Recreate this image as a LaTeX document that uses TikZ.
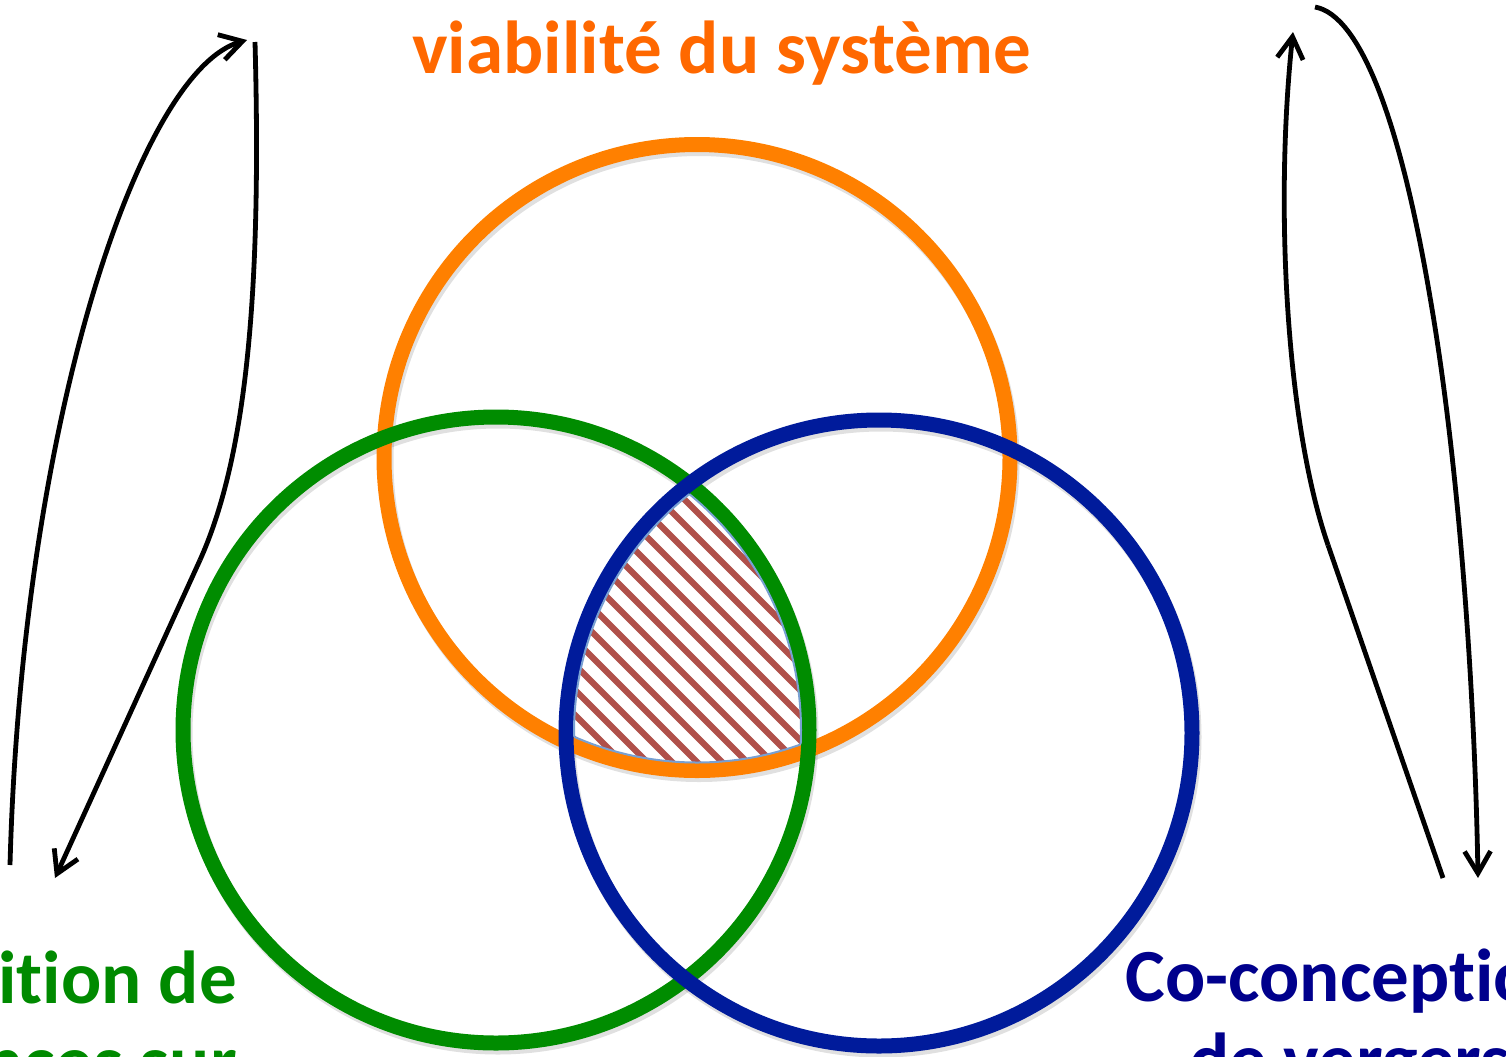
\documentclass[tikz,border=0pt]{standalone}
\usepackage{fontspec}
\setmainfont{Carlito}[Ligatures={NoCommon,NoRare}]
\usetikzlibrary{arrows.meta}
\definecolor{ringorange}{RGB}{255,128,0}
\definecolor{ringgreen}{RGB}{0,140,0}
\definecolor{ringblue}{RGB}{0,27,155}
\definecolor{txtorange}{RGB}{255,104,0}
\definecolor{txtgreen}{RGB}{0,138,0}
\definecolor{txtblue}{RGB}{0,0,140}
\definecolor{hatchred}{RGB}{176,80,74}
\definecolor{hatchedge}{RGB}{120,160,210}
\tikzset{
  ring/.style={line width=7.5pt},
  ringshadow/.style={line width=7.5pt, draw=black, opacity=0.12},
  loop/.style={line width=2.4pt, -{Straight Barb[length=11pt,width=13pt,line width=2.4pt]}},
  plainloop/.style={line width=2.4pt},
  label/.style={font=\bfseries\fontsize{37.5pt}{42pt}\selectfont, inner sep=0pt},
  titlelabel/.style={font=\bfseries\fontsize{37.5pt}{40pt}\selectfont, inner sep=0pt, text=txtorange},
  stripe/.style={line width=3.1pt, draw=hatchred},
  hatchborder/.style={line width=1pt, draw=hatchedge}
}
\begin{document}
\begin{tikzpicture}[x=0.5pt,y=-0.5pt]
\useasboundingbox (0,0) rectangle (1506,1056);
% centres
\coordinate (co) at (697,457.5);
\coordinate (cg) at (496,730);
\coordinate (cb) at (879,733);
% shadows
\draw[ringshadow] ([shift={(2,4)}]co) circle[radius=313];
\draw[ringshadow] ([shift={(2,4)}]cg) circle[radius=313];
\draw[ringshadow] ([shift={(2,4)}]cb) circle[radius=313];
% rings
\draw[ring, draw=ringorange] (co) circle[radius=313];
\draw[ring, draw=ringgreen] (cg) circle[radius=313];
\draw[ring, draw=ringblue] (cb) circle[radius=313];
% hatched common part
\begin{scope}
  \clip (co) circle[radius=305];
  \clip (cg) circle[radius=305];
  \clip (cb) circle[radius=305];
  \fill[white] (500,450) rectangle (900,800);
  \foreach \d in {-425,-400,...,425}
    \draw[stripe] (690+\d-300,630-300) -- (690+\d+300,630+300);
\end{scope}
\begin{scope}
  \clip (cg) circle[radius=305];
  \clip (cb) circle[radius=305];
  \draw[hatchborder] (co) circle[radius=305];
\end{scope}
\begin{scope}
  \clip (co) circle[radius=305];
  \clip (cb) circle[radius=305];
  \draw[hatchborder] (cg) circle[radius=305];
\end{scope}
\begin{scope}
  \clip (co) circle[radius=305];
  \clip (cg) circle[radius=305];
  \draw[hatchborder] (cb) circle[radius=305];
\end{scope}
% texts
\node[titlelabel, anchor=base] (title) at (721.5,73) {viabilité du système};
\node[label, text=txtgreen, anchor=base east] (g1) at (237,1003) {Acquisition de};
\node[label, text=txtgreen, anchor=base east] (g2) at ([shift={(0,84)}]g1.base east) {connaissances sur};
\node[label, text=txtblue, anchor=base west] (b1) at (1125,1001) {Co-conception};
\node[label, text=txtblue, anchor=base] (b2) at ([shift={(0,84)}]b1.base) {de vergers};
% loop arrows, left
\coordinate (la0) at (10,865);
\coordinate (la1) at (247,40);
\coordinate (lb0) at (255,42);
\coordinate (lbm) at (200,560);
\coordinate (lb1) at (55,878);
\draw[loop] (la0) .. controls (22,420) and (140,70) .. (la1);
\draw[plainloop] (lb0) .. controls (262,300) and (245,460) .. (lbm);
\draw[loop] (lbm) -- (lb1);
% loop arrows, right
\coordinate (rc0) at (1443,878);
\coordinate (rcm) at (1328,545);
\coordinate (rc1) at (1293,32);
\coordinate (rd0) at (1315,7);
\coordinate (rdm) at (1430,297);
\coordinate (rd1) at (1478,878);
\draw[plainloop] (rc0) -- (rcm);
\draw[loop] (rcm) .. controls (1285,420) and (1275,200) .. (rc1);
\draw[plainloop] (rd0) .. controls (1360,15) and (1400,120) .. (rdm);
\draw[loop] (rdm) .. controls (1460,470) and (1475,700) .. (rd1);
\end{tikzpicture}
\end{document}
